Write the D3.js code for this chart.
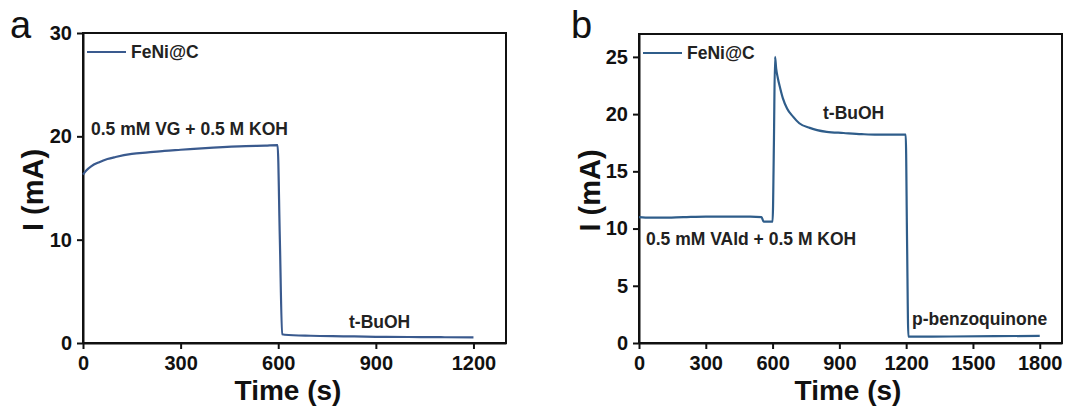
<!DOCTYPE html>
<html><head><meta charset="utf-8">
<script src="https://cdn.jsdelivr.net/npm/d3@7"></script>
<style>
html,body{margin:0;padding:0;background:#fff;}
svg{display:block;font-family:"Liberation Sans",Arial,sans-serif;}
</style></head>
<body><svg id="chart" width="1070" height="408"></svg>
<script>
// ---- Panel a data ----
const aTime    = [0, 10, 25, 50, 75, 100, 150, 200, 250, 300, 400, 500, 560, 598, 605, 612, 620, 700, 800, 900, 1000, 1100, 1200];
const aCurrent = [16.3, 16.7, 17.1, 17.5, 17.8, 18.0, 18.3, 18.45, 18.6, 18.7, 18.9, 19.05, 19.1, 19.15, 10.0, 0.85, 0.8, 0.7, 0.65, 0.6, 0.58, 0.56, 0.55];
const aXTicks  = [0, 300, 600, 900, 1200];
const aYTicks  = [0, 10, 20, 30];

// ---- Panel b data ----
const bTime    = [0, 50, 100, 200, 300, 400, 500, 550, 560, 580, 600, 606, 611, 616, 623, 635, 646, 665, 691, 720, 767, 800, 843, 919, 1000, 1071, 1150, 1198, 1204, 1210, 1250, 1400, 1600, 1800];
const bCurrent = [11.0, 10.95, 10.95, 11.0, 11.05, 11.05, 11.05, 11.0, 10.6, 10.6, 10.6, 17.5, 25.0, 24.0, 23.2, 22.2, 21.4, 20.5, 19.8, 19.2, 18.8, 18.6, 18.45, 18.35, 18.25, 18.2, 18.2, 18.2, 9.0, 0.55, 0.55, 0.57, 0.6, 0.62];
const bXTicks  = [0, 300, 600, 900, 1200, 1500, 1800];
const bYTicks  = [0, 5, 10, 15, 20, 25];

const svg = d3.select("#chart");

function panel(cfg) {
  const x = d3.scaleLinear().domain(cfg.xDomain).range([cfg.left, cfg.right]);
  const y = d3.scaleLinear().domain(cfg.yDomain).range([cfg.bottom, cfg.top]);
  const g = svg.append("g");

  g.append("rect").attr("x", cfg.left).attr("y", cfg.top)
    .attr("width", cfg.right - cfg.left).attr("height", cfg.bottom - cfg.top)
    .attr("fill", "none").attr("stroke", "#111").attr("stroke-width", 2);

  const xAxis = g.append("g").attr("transform", `translate(0,${cfg.bottom})`)
    .call(d3.axisBottom(x).tickValues(cfg.xTicks).tickFormat(d3.format("d"))
      .tickSize(6).tickPadding(7).tickSizeOuter(0));
  const yAxis = g.append("g").attr("transform", `translate(${cfg.left},0)`)
    .call(d3.axisLeft(y).tickValues(cfg.yTicks).tickFormat(d3.format("d"))
      .tickSize(6).tickPadding(5).tickSizeOuter(0));
  [xAxis, yAxis].forEach(ax => {
    ax.select(".domain").attr("stroke", "#111").attr("stroke-width", 2);
    ax.selectAll(".tick line").attr("stroke", "#111").attr("stroke-width", 2);
    ax.selectAll(".tick text").attr("fill", "#111")
      .style("font-size", "20px").style("font-weight", "bold")
      .style("font-family", '"Liberation Sans", Arial, sans-serif');
  });

  const line = d3.line().x((d, i) => x(cfg.t[i])).y((d, i) => y(cfg.v[i])).curve(d3.curveMonotoneX);
  g.append("path").datum(cfg.v).attr("d", line)
    .attr("fill", "none").attr("stroke", cfg.color).attr("stroke-width", 2.2)
    .attr("stroke-linejoin", "round");

  g.append("line").attr("x1", cfg.left + 4).attr("x2", cfg.left + 43)
    .attr("y1", cfg.legY).attr("y2", cfg.legY).attr("stroke", cfg.color).attr("stroke-width", 2);
  g.append("text").attr("x", cfg.left + 48).attr("y", cfg.legY + 6)
    .attr("font-size", 17.5).attr("font-weight", "bold").attr("fill", "#222").text("FeNi@C");

  cfg.notes.forEach(n => {
    g.append("text").attr("x", n.x).attr("y", n.y)
      .attr("font-size", 17.5).attr("font-weight", "bold").attr("fill", "#222").text(n.text);
  });

  g.append("text").attr("x", cfg.xTitleX).attr("y", 400).attr("text-anchor", "middle")
    .attr("font-size", 28).attr("font-weight", "bold").attr("fill", "#111").text("Time (s)");
  g.append("text").attr("transform", `translate(${cfg.yTitleX},${(cfg.top + cfg.bottom) / 2 + 2}) rotate(-90)`)
    .attr("text-anchor", "middle").attr("font-size", 29).attr("font-weight", "bold")
    .attr("fill", "#111").text("I (mA)");

  g.append("text").attr("x", cfg.letterX).attr("y", 38)
    .attr("font-size", 38).attr("fill", "#111").text(cfg.letter);
}

panel({
  left: 83, right: 506, top: 33, bottom: 343,
  xDomain: [0, 1300], yDomain: [0, 30],
  xTicks: aXTicks, yTicks: aYTicks, t: aTime, v: aCurrent,
  color: "#3a5a8e", legY: 52,
  notes: [
    { x: 91, y: 135, text: "0.5 mM VG + 0.5 M KOH" },
    { x: 349, y: 328, text: "t-BuOH" }
  ],
  xTitleX: 288, yTitleX: 43, letter: "a", letterX: 10
});

panel({
  left: 639, right: 1062, top: 34, bottom: 343,
  xDomain: [0, 1900], yDomain: [0, 27],
  xTicks: bXTicks, yTicks: bYTicks, t: bTime, v: bCurrent,
  color: "#2f5d8a", legY: 53,
  notes: [
    { x: 823, y: 119, text: "t-BuOH" },
    { x: 646, y: 245, text: "0.5 mM VAld + 0.5 M KOH" },
    { x: 912, y: 325, text: "p-benzoquinone" }
  ],
  xTitleX: 848, yTitleX: 600, letter: "b", letterX: 571
});
</script>
</body></html>
